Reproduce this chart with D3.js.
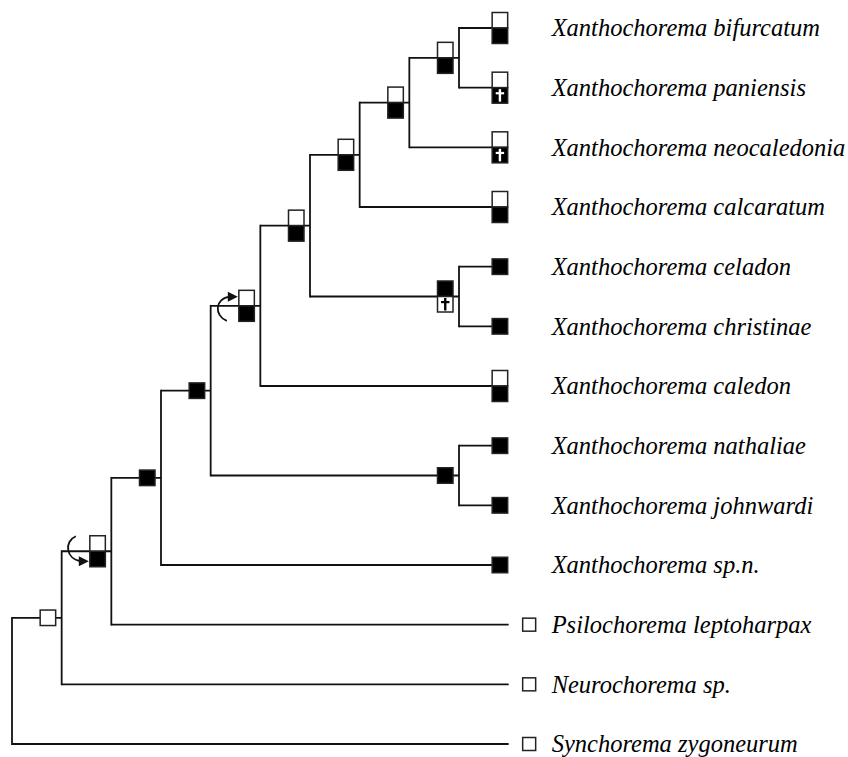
<!DOCTYPE html>
<html><head><meta charset="utf-8">
<script src="https://cdn.jsdelivr.net/npm/d3@7"></script>
<style>html,body{margin:0;padding:0;background:#fff}</style>
</head><body>
<svg id="chart" width="848" height="757"></svg>
<script>
// ---- DATA ----
// Internal nodes of the cladogram
const nodeIds      = ["root","H","I","J","K","F","D","C","B","A","E","G"];
const nodeParents  = ["",    "root","H","I","J","K","F","D","C","B","D","K"];
const nodeColumns  = [0,1,2,3,4,5,6,7,8,9,9,9];
// state codes: "0" white, "1" black, "01" white over black, "10+" black over white with dagger
const nodeStates   = ["", "0","01","1","1","01","01","01","01","01","10+","1"];
const nodeArrows   = ["", "", "down","", "", "up", "", "", "", "", "", ""];

// Terminal taxa (top to bottom)
const taxa = [
  "Xanthochorema bifurcatum","Xanthochorema paniensis","Xanthochorema neocaledonia",
  "Xanthochorema calcaratum","Xanthochorema celadon","Xanthochorema christinae",
  "Xanthochorema caledon","Xanthochorema nathaliae","Xanthochorema johnwardi",
  "Xanthochorema sp.n.","Psilochorema leptoharpax","Neurochorema sp.","Synchorema zygoneurum"
];
const taxaParents = ["A","A","B","C","E","E","F","G","G","J","I","H","root"];
// "01+" = white over black with dagger in black; "o" = outgroup (open square)
const taxaStates  = ["01","01+","01+","01","1","1","01","1","1","1","o","o","o"];
const leafColumn = 10;

// ---- BUILD TREE ----
const rows = nodeIds.map((id,i)=>({id, parentId: nodeParents[i]||null, col: nodeColumns[i], state: nodeStates[i], arrow: nodeArrows[i]}))
  .concat(taxa.map((t,i)=>({id:t, parentId: taxaParents[i], col: leafColumn, state: taxaStates[i], leaf:true, order:i})));
const root = d3.stratify().id(d=>d.id).parentId(d=>d.parentId)(rows);

const x = d3.scaleLinear().domain([0,9]).range([12,459]);
const y = d3.scalePoint().domain(taxa).range([28,744]);

root.eachAfter(n=>{
  n.px = x(n.data.col);
  if (!n.children) n.py = y(n.data.id);
  else n.py = d3.mean(n.children, c=>c.py);
});
const svg = d3.select("#chart");
const g = svg.append("g");
const ink = "#111";
const SW = 1.8;

// vertical connectors
root.each(n=>{
  if (n.children){
    const ys = n.children.map(c=>c.py);
    g.append("line").attr("x1",n.px).attr("x2",n.px)
      .attr("y1",d3.min(ys)).attr("y2",d3.max(ys))
      .attr("stroke",ink).attr("stroke-width",SW).attr("stroke-linecap","square");
  }
});
// horizontal branches
const BS = 15.5; // box size
root.descendants().filter(n=>n.parent).forEach(n=>{
  let xEnd = n.px;
  if (n.data.leaf && n.data.state!=="o") xEnd = n.px - 16.5;
  g.append("line").attr("x1",n.parent.px).attr("x2",xEnd)
    .attr("y1",n.py).attr("y2",n.py)
    .attr("stroke",ink).attr("stroke-width",SW);
});

function dagger(cx, top, color){
  g.append("rect").attr("x",cx-1.2).attr("y",top+1.5).attr("width",2.4).attr("height",BS-3).attr("fill",color);
  g.append("rect").attr("x",cx-4.2).attr("y",top+4.5).attr("width",8.4).attr("height",2.2).attr("fill",color);
}
function sq(x0,y0,fill,s){
  g.append("rect").attr("x",x0).attr("y",y0).attr("width",s||BS).attr("height",s||BS)
    .attr("fill",fill).attr("stroke","#222").attr("stroke-width",1.5);
}
function drawState(state, bx, cy){
  if (state==="0") sq(bx, cy-BS/2, "#fff");
  else if (state==="1") sq(bx, cy-BS/2, "#000");
  else if (state==="01"){ sq(bx, cy-BS, "#fff"); sq(bx, cy, "#000"); }
  else if (state==="01+"){ sq(bx, cy-BS, "#fff"); sq(bx, cy, "#000"); dagger(bx+BS/2, cy, "#fff"); }
  else if (state==="10+"){ sq(bx, cy-BS, "#000"); sq(bx, cy, "#fff"); dagger(bx+BS/2, cy, "#000"); }
}

// internal node state boxes (on the branch just before the node)
root.descendants().filter(n=>n.parent && n.children).forEach(n=>{
  const bx = n.px - 21.5;
  drawState(n.data.state, bx, n.py);
  if (n.data.arrow==="down"){
    g.append("path").attr("d",`M${bx-14},${n.py-15} C${bx-26},${n.py-10} ${bx-24},${n.py+8} ${bx-9},${n.py+10}`)
      .attr("fill","none").attr("stroke",ink).attr("stroke-width",1.8);
    g.append("path").attr("d",`M${bx-1},${n.py+10} L${bx-11},${n.py+5} L${bx-11},${n.py+15} Z`).attr("fill",ink);
  } else if (n.data.arrow==="up"){
    g.append("path").attr("d",`M${bx-12},${n.py+15} C${bx-25},${n.py+10} ${bx-24},${n.py-8} ${bx-9},${n.py-9}`)
      .attr("fill","none").attr("stroke",ink).attr("stroke-width",1.8);
    g.append("path").attr("d",`M${bx-1},${n.py-9} L${bx-11},${n.py-14} L${bx-11},${n.py-4} Z`).attr("fill",ink);
  }
});

// leaves
root.leaves().forEach(n=>{
  if (n.data.state==="o"){
    sq(n.px+14, n.py-6.5, "#fff", 13);
  } else {
    drawState(n.data.state, n.px-16.5, n.py);
  }
  g.append("text").attr("x", n.px+43).attr("y", n.py).attr("dy","0.34em")
    .attr("font-family","'Liberation Serif','Times New Roman',serif")
    .attr("font-style","italic").attr("font-size",24.5).attr("fill","#000")
    .text(n.data.id);
});
</script>
</body></html>
